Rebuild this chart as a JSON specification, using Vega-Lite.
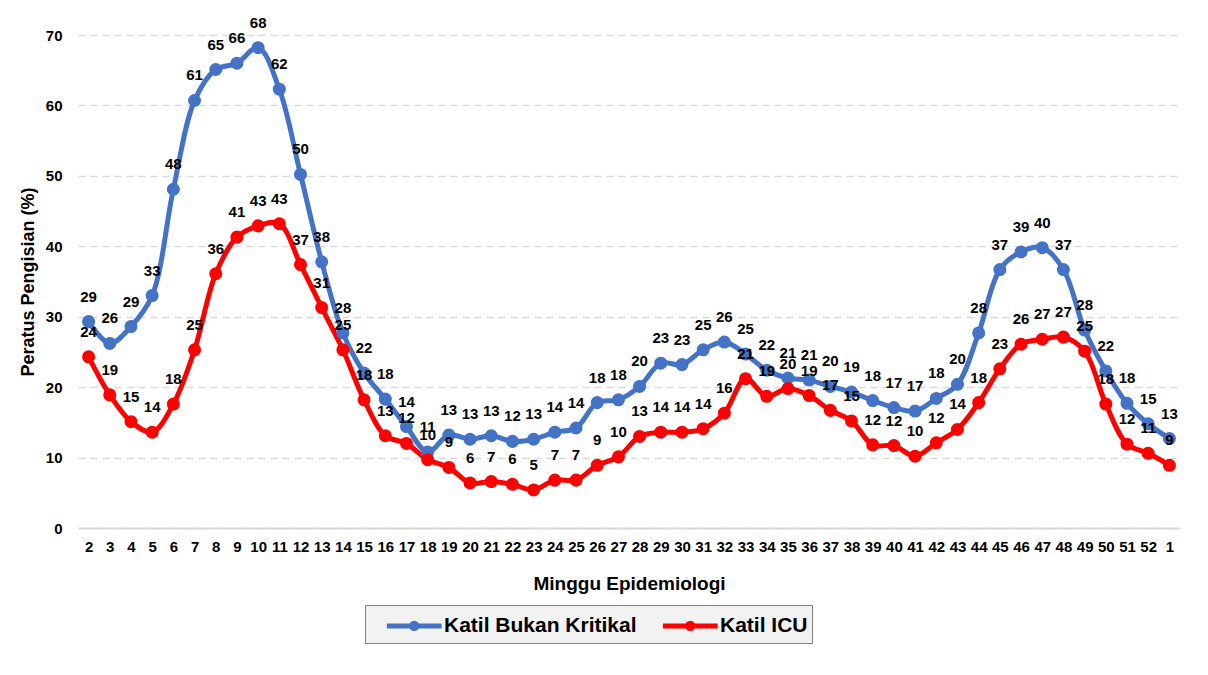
{
  "$schema": "https://vega.github.io/schema/vega-lite/v6.json",
  "width": 1102,
  "height": 493,
  "autosize": {"type": "none"},
  "padding": {"left": 78, "top": 35, "right": 28, "bottom": 147},
  "background": "white",
  "config": {
    "font": "Liberation Sans",
    "view": {"stroke": null},
    "axis": {"labelFont": "Liberation Sans", "titleFont": "Liberation Sans", "labelFontWeight": "bold", "titleFontWeight": "bold", "labelColor": "#000000", "titleColor": "#000000"},
    "legend": {"labelFont": "Liberation Sans", "labelFontWeight": "bold", "labelFontSize": 21, "labelColor": "#000000", "labelLimit": 0}
  },
  "data": {
    "values": [
      {"week": "2", "Katil Bukan Kritikal": 29.3, "Katil ICU": 24.3},
      {"week": "3", "Katil Bukan Kritikal": 26.2, "Katil ICU": 18.9},
      {"week": "4", "Katil Bukan Kritikal": 28.6, "Katil ICU": 15.1},
      {"week": "5", "Katil Bukan Kritikal": 33.0, "Katil ICU": 13.6},
      {"week": "6", "Katil Bukan Kritikal": 48.1, "Katil ICU": 17.6},
      {"week": "7", "Katil Bukan Kritikal": 60.7, "Katil ICU": 25.3},
      {"week": "8", "Katil Bukan Kritikal": 65.1, "Katil ICU": 36.1},
      {"week": "9", "Katil Bukan Kritikal": 66.0, "Katil ICU": 41.3},
      {"week": "10", "Katil Bukan Kritikal": 68.2, "Katil ICU": 42.9},
      {"week": "11", "Katil Bukan Kritikal": 62.3, "Katil ICU": 43.2},
      {"week": "12", "Katil Bukan Kritikal": 50.2, "Katil ICU": 37.4},
      {"week": "13", "Katil Bukan Kritikal": 37.8, "Katil ICU": 31.3},
      {"week": "14", "Katil Bukan Kritikal": 27.7, "Katil ICU": 25.3},
      {"week": "15", "Katil Bukan Kritikal": 22.0, "Katil ICU": 18.2},
      {"week": "16", "Katil Bukan Kritikal": 18.3, "Katil ICU": 13.1},
      {"week": "17", "Katil Bukan Kritikal": 14.4, "Katil ICU": 12.0},
      {"week": "18", "Katil Bukan Kritikal": 10.8, "Katil ICU": 9.7},
      {"week": "19", "Katil Bukan Kritikal": 13.2, "Katil ICU": 8.6},
      {"week": "20", "Katil Bukan Kritikal": 12.6, "Katil ICU": 6.4},
      {"week": "21", "Katil Bukan Kritikal": 13.1, "Katil ICU": 6.6},
      {"week": "22", "Katil Bukan Kritikal": 12.3, "Katil ICU": 6.2},
      {"week": "23", "Katil Bukan Kritikal": 12.6, "Katil ICU": 5.4},
      {"week": "24", "Katil Bukan Kritikal": 13.6, "Katil ICU": 6.8},
      {"week": "25", "Katil Bukan Kritikal": 14.2, "Katil ICU": 6.8},
      {"week": "26", "Katil Bukan Kritikal": 17.8, "Katil ICU": 8.9},
      {"week": "27", "Katil Bukan Kritikal": 18.2, "Katil ICU": 10.1},
      {"week": "28", "Katil Bukan Kritikal": 20.1, "Katil ICU": 13.0},
      {"week": "29", "Katil Bukan Kritikal": 23.4, "Katil ICU": 13.6},
      {"week": "30", "Katil Bukan Kritikal": 23.2, "Katil ICU": 13.6},
      {"week": "31", "Katil Bukan Kritikal": 25.3, "Katil ICU": 14.1},
      {"week": "32", "Katil Bukan Kritikal": 26.4, "Katil ICU": 16.3},
      {"week": "33", "Katil Bukan Kritikal": 24.7, "Katil ICU": 21.2},
      {"week": "34", "Katil Bukan Kritikal": 22.4, "Katil ICU": 18.7},
      {"week": "35", "Katil Bukan Kritikal": 21.3, "Katil ICU": 19.8},
      {"week": "36", "Katil Bukan Kritikal": 21.0, "Katil ICU": 18.8},
      {"week": "37", "Katil Bukan Kritikal": 20.1, "Katil ICU": 16.7},
      {"week": "38", "Katil Bukan Kritikal": 19.3, "Katil ICU": 15.2},
      {"week": "39", "Katil Bukan Kritikal": 18.1, "Katil ICU": 11.8},
      {"week": "40", "Katil Bukan Kritikal": 17.1, "Katil ICU": 11.7},
      {"week": "41", "Katil Bukan Kritikal": 16.6, "Katil ICU": 10.2},
      {"week": "42", "Katil Bukan Kritikal": 18.4, "Katil ICU": 12.1},
      {"week": "43", "Katil Bukan Kritikal": 20.4, "Katil ICU": 14.0},
      {"week": "44", "Katil Bukan Kritikal": 27.7, "Katil ICU": 17.8},
      {"week": "45", "Katil Bukan Kritikal": 36.7, "Katil ICU": 22.6},
      {"week": "46", "Katil Bukan Kritikal": 39.2, "Katil ICU": 26.1},
      {"week": "47", "Katil Bukan Kritikal": 39.8, "Katil ICU": 26.8},
      {"week": "48", "Katil Bukan Kritikal": 36.7, "Katil ICU": 27.1},
      {"week": "49", "Katil Bukan Kritikal": 28.1, "Katil ICU": 25.1},
      {"week": "50", "Katil Bukan Kritikal": 22.3, "Katil ICU": 17.6},
      {"week": "51", "Katil Bukan Kritikal": 17.7, "Katil ICU": 11.9},
      {"week": "52", "Katil Bukan Kritikal": 14.8, "Katil ICU": 10.6},
      {"week": "1", "Katil Bukan Kritikal": 12.7, "Katil ICU": 8.9}
    ]
  },
  "transform": [
    {"fold": ["Katil Bukan Kritikal", "Katil ICU"], "as": ["series", "value"]}
  ],
  "encoding": {
    "x": {
      "field": "week",
      "type": "ordinal",
      "sort": null,
      "scale": {"type": "point", "padding": 0.5},
      "axis": {
        "title": "Minggu Epidemiologi",
        "titleFontSize": 19,
        "titlePadding": 20,
        "labelAngle": 0,
        "labelFontSize": 15,
        "labelPadding": 11,
        "ticks": false,
        "domainColor": "#D9D9D9",
        "domainWidth": 2
      }
    },
    "y": {
      "field": "value",
      "type": "quantitative",
      "scale": {"domain": [0, 70]},
      "axis": {
        "title": "Peratus Pengisian (%)",
        "titleFontSize": 18,
        "titlePadding": 8,
        "values": [0, 10, 20, 30, 40, 50, 60, 70],
        "labelFontSize": 15,
        "labelPadding": 16,
        "ticks": false,
        "domain": false,
        "gridColor": "#D9D9D9",
        "gridDash": [7, 5],
        "gridWidth": 1.5
      }
    }
  },
  "layer": [
    {
      "mark": {"type": "line", "strokeWidth": 5, "interpolate": "catmull-rom"},
      "encoding": {
        "color": {
          "field": "series",
          "type": "nominal",
          "scale": {"domain": ["Katil Bukan Kritikal", "Katil ICU"], "range": ["#4472C4", "#FF0000"]},
          "legend": {
            "title": null,
            "orient": "none",
            "legendX": 287,
            "legendY": 570,
            "direction": "horizontal",
            "symbolType": "M0.1,0H4.1M1.9,0A0.2,0.2 0 1,1 2.3,0A0.2,0.2 0 1,1 1.9,0Z",
            "symbolSize": 750,
            "symbolStrokeWidth": 5,
            "fillColor": "#F2F2F2",
            "strokeColor": "#7F7F7F",
            "padding": 4,
            "columnPadding": 8,
            "labelOffset": 42
          }
        }
      }
    },
    {
      "mark": {"type": "point", "filled": true, "size": 170, "opacity": 1},
      "encoding": {
        "color": {"field": "series", "type": "nominal", "legend": null}
      }
    },
    {
      "mark": {"type": "text", "fontWeight": "bold", "fontSize": 15, "dy": -25, "color": "#000000"},
      "encoding": {
        "text": {"field": "value", "type": "quantitative", "format": ".0f"}
      }
    }
  ]
}
